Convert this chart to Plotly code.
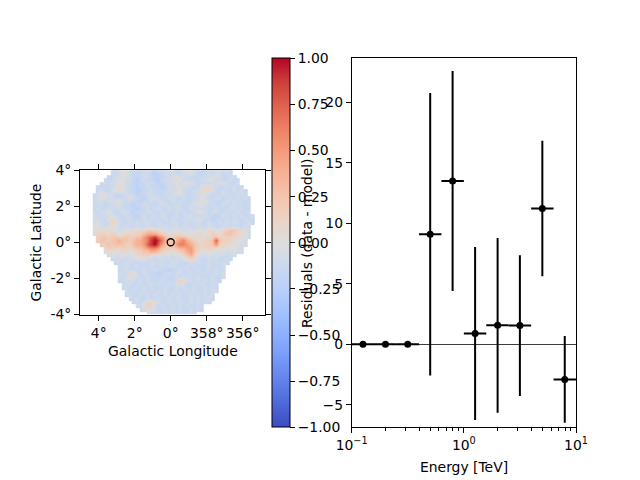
import plotly.graph_objects as go

# ---------------- data: spectral residuals ----------------
energy_center = [0.126, 0.200, 0.316, 0.501, 0.794, 1.26, 2.00, 3.16, 5.01, 7.94]
energy_lo = [0.100, 0.158, 0.251, 0.398, 0.631, 1.00, 1.585, 2.51, 3.98, 6.31]
energy_hi = [0.158, 0.251, 0.398, 0.631, 1.00, 1.585, 2.51, 3.98, 6.31, 10.0]
residual = [0.0, 0.0, 0.0, 9.1, 13.5, 0.9, 1.57, 1.55, 11.23, -2.9]
residual_err = [0.0, 0.0, 0.0, 11.67, 9.09, 7.15, 7.22, 5.82, 5.6, 3.58]

x_tickvals = [0.1, 1, 10]
x_ticktext = ["10<sup>\u22121</sup>", "10<sup>0</sup>", "10<sup>1</sup>"]
y_tickvals = [-5, 0, 5, 10, 15, 20]
y_ticktext = ["\u22125", "0", "5", "10", "15", "20"]

cb_tickvals = [-1, -0.75, -0.5, -0.25, 0, 0.25, 0.5, 0.75, 1]
cb_ticktext = ["\u22121.00", "\u22120.75", "\u22120.50", "\u22120.25", "0.00",
               "0.25", "0.50", "0.75", "1.00"]

lon_tickvals = [4, 2, 0, -2, -4]
lon_ticktext = ["4\u00b0", "2\u00b0", "0\u00b0", "358\u00b0", "356\u00b0"]
lat_tickvals = [-4, -2, 0, 2, 4]
lat_ticktext = ["-4\u00b0", "-2\u00b0", "0\u00b0", "2\u00b0", "4\u00b0"]

# source marker
source_lon = [0.0]
source_lat = [0.0]

# ---------------- data: residual map (estimated, 0.2 deg cells) ----------------
# level codes -> residual value ; '.' is outside the map footprint
levels = {'a': -0.30, 'b': -0.22, 'c': -0.15, 'd': -0.08, 'e': 0.0, 'f': 0.08,
          'g': 0.16, 'h': 0.26, 'i': 0.38, 'j': 0.50, 'k': 0.62, 'l': 0.75,
          'm': 0.88, 'n': 1.0}
# columns: lon 4.9 (col 0) down to -5.1 (col 50); rows: lat 3.9 (top) to -3.9
map_rows = [
    (8, "dcdee dcccd dcbcc dddcc deedc ccdcd dcdc"),
    (7, "ccdde edccc ddcbb ccdde ddddc cccdd edccd c"),
    (6, "dccde eddcb cdccb bcdde fedcc ccdde eddcc dcc"),
    (5, "cdcdd eedcc bccdd cbccd dedef edccc cddee dccd"),
    (4, "dcccd dfedc cbccd cccbc ddeed dccce ffedc cdcdc c"),
    (4, "cdccd efedc cbbcc dcccc ddded ccdde ffecc dccdc dc"),
    (3, "ddfed dcccd dcbcc ddccc dcdee dccdd eedcc cddcc ddc"),
    (3, "cdeed dcccd edccb cdddc cddcc dcccd edccd dccdc dcdc"),
    (3, "cddcd deedc dccbc cdcdd ccdcd ccced efdcc ccdcd cdcc"),
    (3, "dcdcc ddecc cbccd dcccd dccdc ccdde edcdc cdccd dccd"),
    (3, "cdccd dcddc ccbcc dcddc cdcdd ccddd ddccd cccdd cdcc"),
    (3, "dcdde dccdd cbccc ddccd cccdc dccde edcdd ccdcc dccd"),
    (3, "edcdd edccd ccbcd ccdcd dccdc cddcd cdccb cdccd cdccd"),
    (3, "dddce fedcc dcccd cdccc dcdcc dcdce dccbc ccdcd ccdcc"),
    (3, "dedcc gfdcc dcdcd dccdc ccddc cdcdd ccdcc dcdcd dccdc"),
    (3, "eeddd fedcd ccdcc ddcdd dcddc ddccd dcddc cddcd ccdd"),
    (3, "efeffeed deeff ffggffe eddeedde deeeffee fghhgf ed"),
    (3, "ffgffgfe efgfg ghiiihg fefffeee effefgfe ghhgff ed"),
    (4, "gghgghg ghggh hjklmkjh gghhhgf ffeffghg fggffe ed"),
    (4, "ghhghhi hhghi ijkmnmki hgijkih gffgghlh ggffeed"),
    (5, "gghghh hgghi ijlmnljh hhjkkji hgfgghjg fffeedd"),
    (6, "fgggf ggfgh hijkkjhg gghiijj hgffgffe feeedd"),
    (6, "effef ffefg ghhiihgf fefghij hfeefeed eddedd"),
    (7, "deed eedef fggfeeed edeefhi geddeddd dcdd"),
    (8, "cdd dcdde eeddcddc dcddefg fdccdcdc cdc"),
    (9, "cdcdd cccdc ddcdc cddcc cdcdc cdcdc dc"),
    (10, "dcdcc dcccd ccdcd dcccd cdccc dcccd"),
    (10, "cddcc ccdcc dcccb ccdcd ccdcc dcdcc"),
    (10, "cdcef dcdcc cbccd cddcc dcccd ccdcd"),
    (10, "dcdfe dccdc cccdc cdcdd ccdcc cdccd"),
    (10, "ccddd cdcdc ccdcc cdgfd dcdcd cdcc"),
    (11, "dcdcc dccdc dccdc efdcc dcdcc cd"),
    (11, "cdccd cdcdc ccdcc dcdcc dccdc dc"),
    (12, "dcdcc dcccd cdccd ccdcd ccdce d"),
    (12, "cdccd cdcdc cdcdc dccdc dcdcd"),
    (13, "dcdcc dccdc cdcdd ccdcd ccdc"),
    (14, "cdcdf gedcc dccdc cdcdc dc"),
    (15, "dcfgf dcdcc dcdcd ccdc"),
    (16, "cdefd ccdcd cdccd cdc"),
    (18, "dcdcc dcdcd ccdc"),
]
NCOL = 51

z_top_down = []
for start, s in map_rows:
    s = s.replace(" ", "")
    row = [None] * NCOL
    for k, ch in enumerate(s):
        if start + k < NCOL:
            row[start + k] = levels.get(ch)
    z_top_down.append(row)
# reorder: rows ascending in latitude, columns ascending in longitude
z_map = [list(reversed(r)) for r in reversed(z_top_down)]

# coolwarm colour scale
coolwarm = [
    [0.0, "rgb(59,76,192)"], [0.0625, "rgb(77,104,215)"], [0.125, "rgb(98,130,234)"],
    [0.1875, "rgb(119,154,247)"], [0.25, "rgb(141,176,254)"], [0.3125, "rgb(163,194,255)"],
    [0.375, "rgb(184,208,249)"], [0.4375, "rgb(204,217,238)"], [0.5, "rgb(221,221,221)"],
    [0.5625, "rgb(236,211,197)"], [0.625, "rgb(245,196,173)"], [0.6875, "rgb(247,177,148)"],
    [0.75, "rgb(244,154,123)"], [0.8125, "rgb(236,127,99)"], [0.875, "rgb(222,96,77)"],
    [0.9375, "rgb(203,62,56)"], [1.0, "rgb(180,4,38)"],
]

FONT = "DejaVu Sans"
FS = 13.9
W, H = 640, 480

def px_x(p):
    return p / W

def px_y(p):
    return 1 - p / H

fig = go.Figure()

fig.add_trace(go.Heatmap(
    z=z_map, x0=-5.1, dx=0.2, y0=-3.9, dy=0.2,
    zmin=-1, zmax=1, colorscale=coolwarm, zsmooth="best",
    hoverongaps=False,
    xaxis="x", yaxis="y",
    colorbar=dict(
        x=px_x(272.3), xanchor="left", xref="paper",
        y=px_y(427.3), yanchor="bottom", yref="paper",
        len=(427.3 - 58.3) / H, lenmode="fraction",
        thickness=18.4, thicknessmode="pixels",
        xpad=0, ypad=0, outlinewidth=1, outlinecolor="black",
        tickmode="array", tickvals=cb_tickvals, ticktext=cb_ticktext,
        ticks="outside", ticklen=4.9, tickwidth=1, tickcolor="black",
        tickfont=dict(family=FONT, size=FS, color="black"),
    ),
))

fig.add_trace(go.Scatter(
    x=source_lon, y=source_lat, mode="markers",
    marker=dict(symbol="circle-open", size=7, color="black", line=dict(width=1.3)),
    xaxis="x", yaxis="y", showlegend=False, hoverinfo="skip",
))

fig.add_trace(go.Scatter(
    x=energy_center, y=residual, mode="markers",
    marker=dict(size=7, color="black"),
    error_y=dict(type="data", array=residual_err, visible=True,
                 color="black", thickness=2, width=0),
    error_x=dict(type="data", symmetric=False,
                 array=[h - c for h, c in zip(energy_hi, energy_center)],
                 arrayminus=[c - l for c, l in zip(energy_center, energy_lo)],
                 visible=True, color="black", thickness=2, width=0),
    xaxis="x2", yaxis="y2", showlegend=False,
))

axis_font = dict(family=FONT, size=FS, color="black")

fig.update_layout(
    width=W, height=H,
    margin=dict(l=0, r=0, t=0, b=0, pad=0, autoexpand=False),
    paper_bgcolor="white", plot_bgcolor="white",
    font=dict(family=FONT, size=FS, color="black"),
    showlegend=False,
    xaxis=dict(
        domain=[px_x(80), px_x(265)], range=[5.04, -5.24], anchor="y",
        showgrid=False, zeroline=False, automargin=False, tickangle=0,
        showline=True, linecolor="black", linewidth=1, mirror="ticks",
        ticks="outside", ticklen=4.9, tickcolor="black",
        tickmode="array", tickvals=lon_tickvals, ticktext=lon_ticktext,
        tickfont=axis_font,
    ),
    yaxis=dict(
        domain=[px_y(315), px_y(170)], range=[-4.04, 4.01], anchor="x",
        showgrid=False, zeroline=False, automargin=False, tickangle=0,
        showline=True, linecolor="black", linewidth=1, mirror="ticks",
        ticks="outside", ticklen=4.9, tickcolor="black",
        tickmode="array", tickvals=lat_tickvals, ticktext=lat_ticktext,
        tickfont=axis_font,
    ),
    xaxis2=dict(
        domain=[px_x(351.7), px_x(576)], type="log", range=[-1, 1], anchor="y2",
        showgrid=False, zeroline=False, automargin=False, tickangle=0,
        showline=True, linecolor="black", linewidth=1, mirror=True,
        ticks="outside", ticklen=4.9, tickcolor="black",
        tickmode="array", tickvals=x_tickvals, ticktext=x_ticktext,
        tickfont=axis_font,
        minor=dict(ticks="outside", ticklen=2.8, tickcolor="black",
                   tickvals=[0.2, 0.3, 0.4, 0.5, 0.6, 0.7, 0.8, 0.9,
                             2, 3, 4, 5, 6, 7, 8, 9], showgrid=False),
    ),
    yaxis2=dict(
        domain=[px_y(427.3), px_y(58.3)], range=[-6.86, 23.64], anchor="x2",
        showgrid=False, automargin=False, tickangle=0,
        zeroline=True, zerolinecolor="rgb(60,60,60)", zerolinewidth=0.8,
        showline=True, linecolor="black", linewidth=1, mirror=True,
        ticks="outside", ticklen=4.9, tickcolor="black",
        tickmode="array", tickvals=y_tickvals, ticktext=y_ticktext,
        tickfont=axis_font,
    ),
    annotations=[
        dict(text="Galactic Longitude", x=px_x(172.5), y=px_y(351),
             xref="paper", yref="paper", xanchor="center", yanchor="middle",
             showarrow=False, font=axis_font),
        dict(text="Galactic Latitude", x=px_x(35), y=px_y(242.5),
             xref="paper", yref="paper", xanchor="center", yanchor="middle",
             textangle=-90, showarrow=False, font=axis_font),
        dict(text="Residuals (data - model)", x=px_x(307), y=px_y(243),
             xref="paper", yref="paper", xanchor="center", yanchor="middle",
             textangle=-90, showarrow=False, font=axis_font),
        dict(text="Energy [TeV]", x=px_x(463.8), y=px_y(467),
             xref="paper", yref="paper", xanchor="center", yanchor="middle",
             showarrow=False, font=axis_font),
    ],
)

fig.write_html(
    "out.html",
    config={"displayModeBar": False},
    post_script="document.body.style.margin='0';document.body.style.overflow='hidden';",
)
